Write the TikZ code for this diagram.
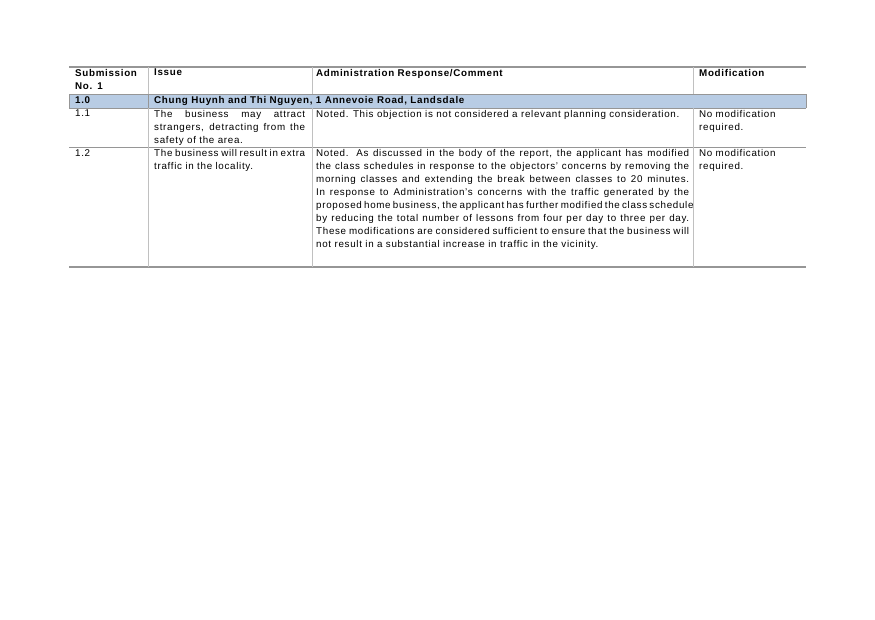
\documentclass[tikz,border=0pt]{standalone}
\usepackage{fontspec}
\setmainfont{Liberation Sans}[LetterSpace=7]
\usetikzlibrary{positioning}
\hyphenpenalty=10000
\definecolor{rowblue}{RGB}{184,204,228}
\definecolor{rulegray}{RGB}{150,150,150}
\tikzset{cell/.style = {anchor=north west, inner sep=0, align=justify,
                        font=\fontsize{9.8}{13}\selectfont},
         head/.style = {cell, font=\fontsize{9.8}{13}\selectfont\bfseries, align=left}}
\begin{document}
\begin{tikzpicture}[x=1pt, y=-1pt]
    \useasboundingbox (0,0) rectangle (875,619);

    \fill [rowblue] (69,94) rectangle (806,108);
    \draw [rulegray, line width=1.2] (69,67) -- (806,67);
    \draw [rulegray] (69,94) -- (806,94);
    \draw [rulegray] (69,108) -- (806,108);
    \draw [rulegray] (69,147) -- (806,147);
    \draw [rulegray, line width=1.2] (69,267) -- (806,267);
    \draw [rulegray!60] (148,67) -- (148,94) (312,67) -- (312,94) (693,67) -- (693,94);
    \draw [rulegray] (148,94) -- (148,108);
    \draw [rulegray!60] (148,108) -- (148,267) (312,108) -- (312,267) (693,108) -- (693,267);
    \draw [rulegray] (69,94) -- (69,108) (806,94) -- (806,108);

    \node (h1) [head, text width=75] at (75,69) {Submission\\No. 1};
    \node (h2) [head] at (154,69) {Issue};
    \node (h3) [head] at (316,69) {Administration Response/Comment};
    \node (h4) [head] at (699,69) {Modification};

    \node (s0) [head] at (75,96) {1.0};
    \node (s1) [head] at (154,96) {Chung Huynh and Thi Nguyen, 1 Annevoie Road, Landsdale};

    \node (n1) [cell] at (75,110) {1.1};
    \node (i1) [cell, text width=151] at (154,110) {The business may attract strangers, detracting from the safety of the area.};
    \node (r1) [cell, text width=373] at (316,110) {Noted. This objection is not considered a relevant planning consideration.};
    \node (m1) [cell, text width=100, align=left] at (699,110) {No modification\\required.};

    \node (n2) [cell] at (75,149) {1.2};
    \node (i2) [cell, text width=151] at (154,149) {The business will result in extra traffic in the locality.};
    \node (r2) [cell, text width=373] at (316,149) {Noted. As discussed in the body of the report, the applicant has modified the class schedules in response to the objectors' concerns by removing the morning classes and extending the break between classes to 20 minutes. In response to Administration's concerns with the traffic generated by the proposed home business, the applicant has further modified the class schedule by reducing the total number of lessons from four per day to three per day. These modifications are considered sufficient to ensure that the business will not result in a substantial increase in traffic in the vicinity.};
    \node (m2) [cell, text width=100, align=left] at (699,149) {No modification\\required.};
\end{tikzpicture}
\end{document}
